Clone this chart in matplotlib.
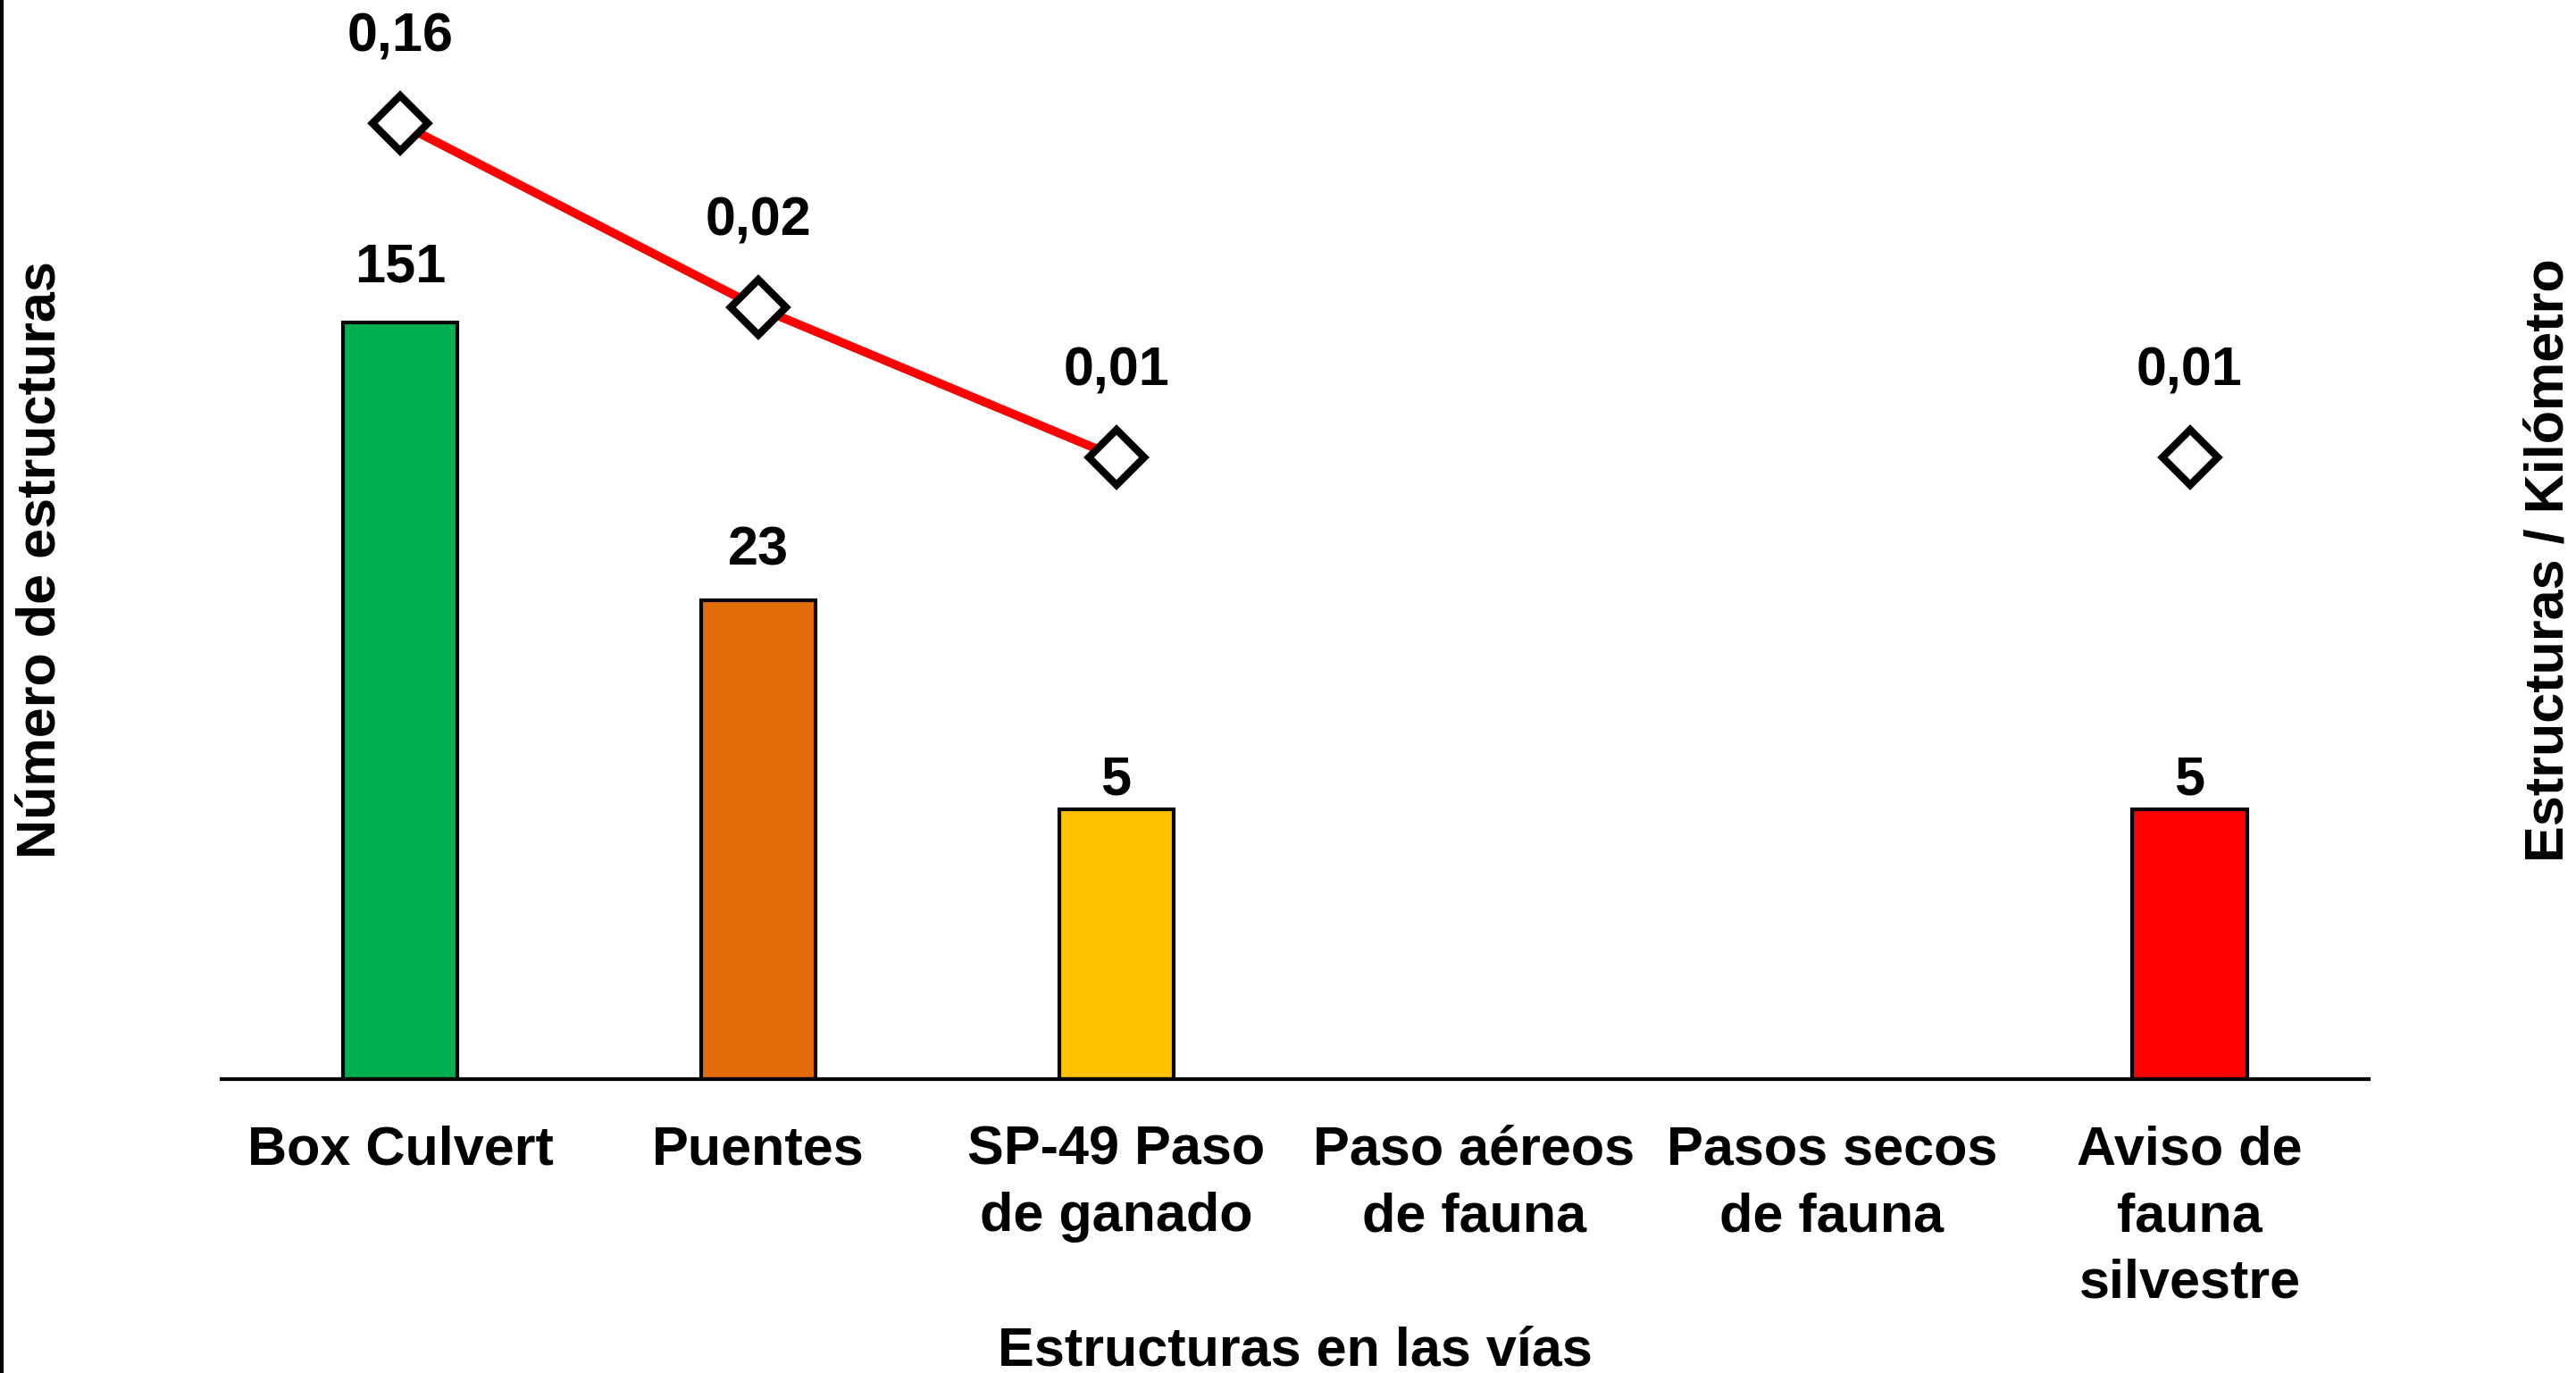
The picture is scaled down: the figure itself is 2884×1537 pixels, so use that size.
import numpy as np
import matplotlib
matplotlib.use("Agg")
import matplotlib.pyplot as plt
from matplotlib.lines import Line2D

plt.rcParams['font.family'] = ['Liberation Sans', 'DejaVu Sans']
plt.rcParams['font.weight'] = 'bold'

# Data
categorias = ["Box Culvert", "Puentes", "SP-49 Paso\nde ganado",
              "Paso aéreos\nde fauna", "Pasos secos\nde fauna",
              "Aviso de\nfauna\nsilvestre"]
num_estructuras = [151, 23, 5, 0, 0, 5]
estructuras_km = [0.16, 0.0244, 0.0053, np.nan, np.nan, 0.0053]
colores = ["#00B050", "#E46C0A", "#FFC000", "#FFFFFF", "#FFFFFF", "#FF0000"]

FS = 44

fig = plt.figure(figsize=(28.84, 15.37), dpi=100)
ax = fig.add_axes([0.086, 0.214, 0.8335, 0.786])
x = np.arange(len(categorias))

# Bars (log scale, counts)
ax.set_yscale('log')
ax.set_ylim(1, 1297)
ax.set_xlim(-0.5, len(categorias) - 0.5)
for i, n in enumerate(num_estructuras):
    if n <= 0:
        continue
    ax.bar(x[i], n, width=0.32, bottom=1, color=colores[i],
           edgecolor='black', linewidth=3, zorder=2)
    ax.annotate(str(n), (x[i], n), xytext=(0, 45), textcoords='offset points',
                ha='center', va='center', fontsize=FS, fontweight='bold')

ax.set_xticks(x)
ax.set_xticklabels(categorias, fontweight='bold', linespacing=1.4)
ax.set_xlabel("Estructuras en las vías", fontsize=FS, fontweight='bold', va='center')
ax.xaxis.set_label_coords(0.5, -0.252)

# Line (log scale, structures per km)
ax2 = ax.twinx()
ax2.set_yscale('log')
ax2.set_ylim(9.2e-6, 0.565)
ax2.plot(x, estructuras_km, color='red', linewidth=7, zorder=3)
ax2.plot(x, estructuras_km, linestyle='none', marker='D', markersize=32,
         markerfacecolor='white', markeredgecolor='black',
         markeredgewidth=6, zorder=4)
for i, v in enumerate(estructuras_km):
    if np.isnan(v):
        continue
    ax2.annotate(f"{v:.2f}".replace('.', ','), (x[i], v), xytext=(0, 69),
                 textcoords='offset points', ha='center', va='center',
                 fontsize=FS, fontweight='bold')

# axes styling (after twinx, which resets the left ticks)
for s in ['top', 'left', 'right']:
    ax.spines[s].set_visible(False)
ax.spines['bottom'].set_linewidth(3)
ax.tick_params(axis='y', which='both', left=False, right=False,
               labelleft=False, labelright=False)
ax.tick_params(axis='x', length=0, pad=37, labelsize=FS)
for s in ['top', 'left', 'right', 'bottom']:
    ax2.spines[s].set_visible(False)
ax2.tick_params(axis='y', which='both', left=False, right=False,
                labelleft=False, labelright=False)

ax.set_ylabel("Número de estructuras", fontsize=FS, fontweight='bold',
              va='center', ha='center')
ax.yaxis.set_label_coords(-0.084, 0.481)
ax2.set_ylabel("Estructuras / Kilómetro", fontsize=FS, fontweight='bold',
               rotation=90, va='center', ha='center')
ax2.yaxis.set_label_coords(1.084, 0.481)

# frame line on the left edge
fig.add_artist(Line2D([0.0008, 0.0008], [0, 1], color='black', linewidth=3,
                      transform=fig.transFigure))

fig.savefig("out.png", dpi=100)
